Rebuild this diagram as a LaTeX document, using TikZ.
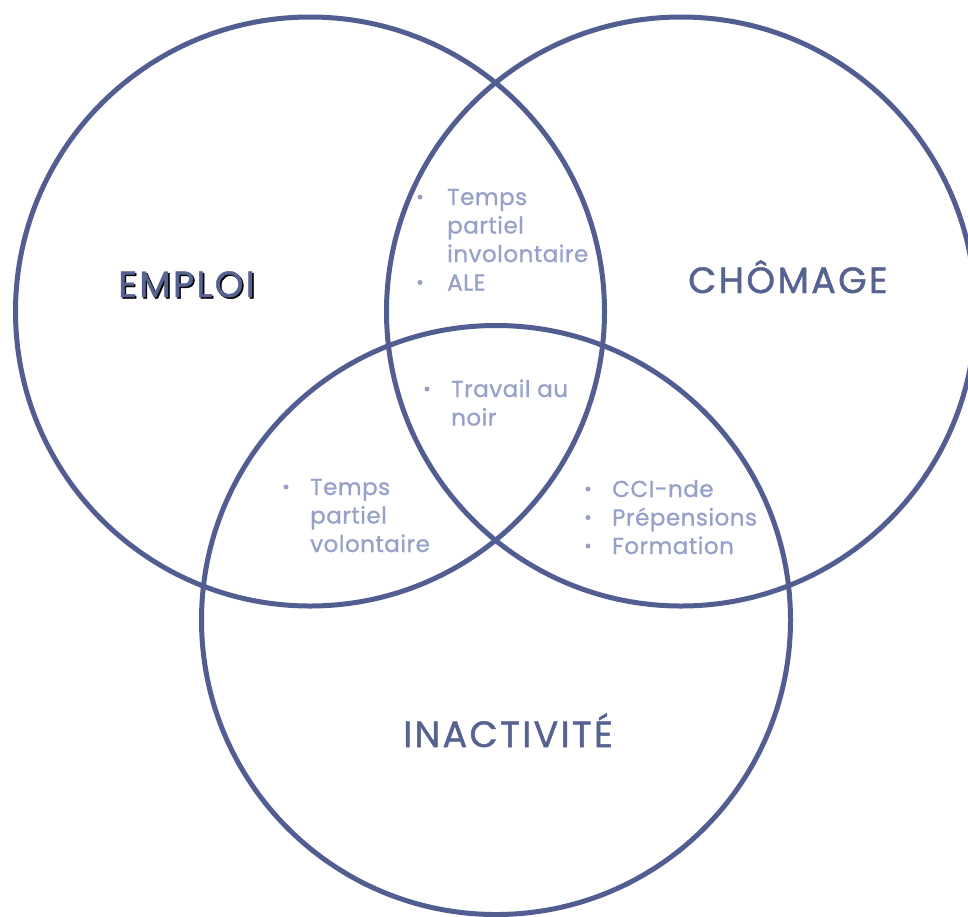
\documentclass[tikz,border=0pt]{standalone}
\usepackage{fontspec}
\setmainfont{Poppins}
\newfontfamily\titlefont{Poppins}[LetterSpace=6.5, FakeBold=1.3]
\newfontfamily\itemfont{Poppins}[LetterSpace=2.2, FakeBold=0.9]
\definecolor{ring}{HTML}{525E91}
\definecolor{title}{HTML}{56628F}
\definecolor{item}{HTML}{96A0C8}
\tikzset{
  ring/.style={circle, draw=ring, line width=5pt, inner sep=0pt, minimum size=589pt},
  title/.style={anchor=base west, inner sep=0pt, text=title, font=\titlefont\fontsize{36.5}{36.5}\selectfont},
  items/.style={anchor=base west, inner sep=0pt, text=item, font=\itemfont\fontsize{23}{28.5}\selectfont},
  dot/.style={fill=item}
}
\newcommand{\rows}[1]{\begin{tabular}[t]{@{}l@{}}#1\end{tabular}}
\begin{document}
\begin{tikzpicture}[x=1pt,y=-1pt]
\useasboundingbox[fill=white] (0,0) rectangle (968,916);

% the three sets
\node[ring] (cemploi) at (310,311.5) {};
\node[ring] (cchomage) at (681,311.5) {};
\node[ring] (cinact) at (496,620) {};

% set names
\node[title, text=black] (emploishadow) at (119.5,298.5) {EMPLOI};
\node[title] (emploi) at (118,297) {EMPLOI};
\node[title] (chomage) at (688,293) {CHÔMAGE};
\node[title] (inact) at (403,747) {INACTIVITÉ};

% overlaps
\node[items] (ec) at (447,205) {\rows{Temps\\partiel\\involontaire\\ALE}};
\fill[dot] (420,197) circle (2.5) (420,282.5) circle (2.5);

\node[items] (eci) at (451,397) {\rows{Travail au\\noir}};
\fill[dot] (427,389) circle (2.5);

\node[items] (ei) at (310,495) {\rows{Temps\\partiel\\volontaire}};
\fill[dot] (286,487) circle (2.5);

\node[items] (ci) at (612,497) {\rows{CCI-nde\\Prépensions\\Formation}};
\fill[dot] (588,489) circle (2.5) (588,517.5) circle (2.5) (588,546) circle (2.5);
\end{tikzpicture}
\end{document}
